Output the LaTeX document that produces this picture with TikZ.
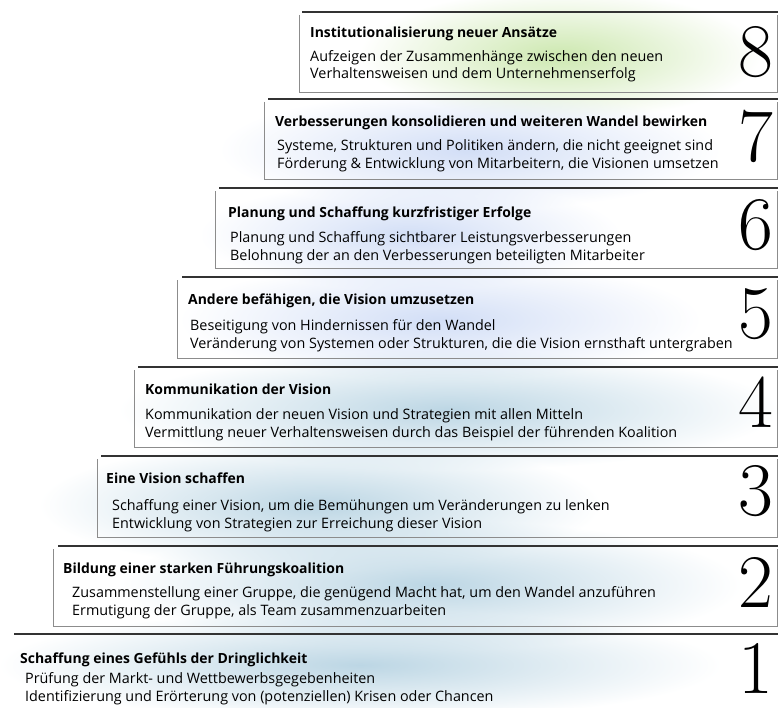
\documentclass[tikz,border=0pt]{standalone}
\usepackage{fontspec}
\setsansfont{Open Sans}
\usetikzlibrary{fadings}

\definecolor{washblue}{HTML}{BCD6E4}
\definecolor{washsky}{HTML}{D2DEF6}
\definecolor{washgreen}{HTML}{CDE8B0}

\tikzfading[name=washfade, inner color=transparent!0, outer color=transparent!100]

\tikzset{
  stepline/.style={draw=black!80, line width=1.8bp},
  stepbox/.style={draw=black!45, line width=0.7bp},
  steptitle/.style={anchor=base west, inner sep=0, font=\sffamily\bfseries\fontsize{14}{15}\selectfont},
  steptext/.style={anchor=base west, inner sep=0, align=left, font=\sffamily\fontsize{14.4}{17.5}\selectfont},
  stepnum/.style={anchor=base east, inner sep=0, font=\fontsize{76}{76}\selectfont}
}

\begin{document}
\begin{tikzpicture}[x=1bp, y=-1bp]
  \useasboundingbox (0,0) rectangle (778,708);
  % watercolour wash
  \fill[washgreen, path fading=washfade] (360,-10) rectangle (760,120);
  \fill[washsky, path fading=washfade] (220,90) rectangle (720,210);
  \fill[washsky, path fading=washfade] (200,180) rectangle (620,290);
  \fill[washsky, path fading=washfade] (180,260) rectangle (700,380);
  \fill[washblue, path fading=washfade] (120,350) rectangle (778,470);
  \fill[washblue, path fading=washfade] (40,440) rectangle (600,570);
  \fill[washblue, path fading=washfade] (120,520) rectangle (740,650);
  \fill[washblue, path fading=washfade] (0,610) rectangle (720,720);

  % 8
  \draw[stepbox] (299,15) -- (299,92) -- (777,92) -- (777,15);
  \draw[stepline] (302,12) -- (778,12);
  \node[steptitle] (t8) at (310,38) {Institutionalisierung neuer Ansätze};
  \node[steptext] (d8) at (310,79) {Aufzeigen der Zusammenhänge zwischen den neuen\\Verhaltensweisen und dem Unternehmenserfolg};
  \node[stepnum] (n8) at (773,77) {8};

  % 7
  \draw[stepbox] (264,102) -- (264,179) -- (777,179) -- (777,102);
  \draw[stepline] (268,99) -- (778,99);
  \node[steptitle] (t7) at (275,127) {Verbesserungen konsolidieren und weiteren Wandel bewirken};
  \node[steptext] (d7) at (277,168) {Systeme, Strukturen und Politiken ändern, die nicht geeignet sind\\Förderung \& Entwicklung von Mitarbeitern, die Visionen umsetzen};
  \node[stepnum] (n7) at (773,161) {7};

  % 6
  \draw[stepbox] (215,191) -- (215,268) -- (777,268) -- (777,191);
  \draw[stepline] (219,188) -- (778,188);
  \node[steptitle] (t6) at (228,217) {Planung und Schaffung kurzfristiger Erfolge};
  \node[steptext] (d6) at (230,260) {Planung und Schaffung sichtbarer Leistungsverbesserungen\\Belohnung der an den Verbesserungen beteiligten Mitarbeiter};
  \node[stepnum] (n6) at (773,249) {6};

  % 5
  \draw[stepbox] (177,280) -- (177,358) -- (777,358) -- (777,280);
  \draw[stepline] (182,277) -- (778,277);
  \node[steptitle] (t5) at (188,304) {Andere befähigen, die Vision umzusetzen};
  \node[steptext] (d5) at (190,348) {Beseitigung von Hindernissen für den Wandel\\Veränderung von Systemen oder Strukturen, die die Vision ernsthaft untergraben};
  \node[stepnum] (n5) at (773,338) {5};

  % 4
  \draw[stepbox] (134,370) -- (134,447) -- (777,447) -- (777,370);
  \draw[stepline] (138,367) -- (778,367);
  \node[steptitle] (t4) at (145,394) {Kommunikation der Vision};
  \node[steptext] (d4) at (145,437) {Kommunikation der neuen Vision und Strategien mit allen Mitteln\\Vermittlung neuer Verhaltensweisen durch das Beispiel der führenden Koalition};
  \node[stepnum] (n4) at (773,427) {4};

  % 3
  \draw[stepbox] (97,459) -- (97,537) -- (777,537) -- (777,459);
  \draw[stepline] (101,456) -- (778,456);
  \node[steptitle] (t3) at (106,483) {Eine Vision schaffen};
  \node[steptext] (d3) at (112,528) {Schaffung einer Vision, um die Bemühungen um Veränderungen zu lenken\\Entwicklung von Strategien zur Erreichung dieser Vision};
  \node[stepnum] (n3) at (773,515) {3};

  % 2
  \draw[stepbox] (53,549) -- (53,626) -- (777,626) -- (777,549);
  \draw[stepline] (58,546) -- (778,546);
  \node[steptitle] (t2) at (63,573) {Bildung einer starken Führungskoalition};
  \node[steptext] (d2) at (72,615) {Zusammenstellung einer Gruppe, die genügend Macht hat, um den Wandel anzuführen\\Ermutigung der Gruppe, als Team zusammenzuarbeiten};
  \node[stepnum] (n2) at (773,607) {2};

  % 1
  \draw[stepline] (14,634) -- (778,634);
  \node[steptitle] (t1) at (20,663) {Schaffung eines Gefühls der Dringlichkeit};
  \node[steptext] (d1) at (25,701) {Prüfung der Markt- und Wettbewerbsgegebenheiten\\Identifizierung und Erörterung von (potenziellen) Krisen oder Chancen};
  \node[stepnum] (n1) at (773,693) {1};
\end{tikzpicture}
\end{document}
